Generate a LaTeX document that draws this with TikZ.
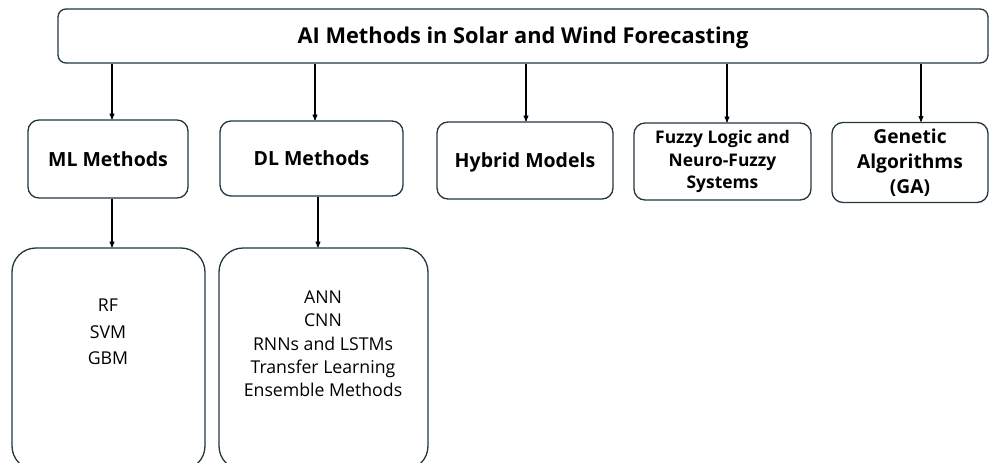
\documentclass[tikz,border=0pt]{standalone}
\usepackage{fontspec}
\setmainfont{Open Sans}
\usetikzlibrary{positioning,arrows}
\definecolor{boxline}{RGB}{36,54,64}

\begin{document}
\begin{tikzpicture}[x=1pt, y=-1pt, >=stealth']
\tikzset{
    box/.style = {draw=boxline, line width=1.3pt, rectangle, align=center, inner sep=2pt},
    topbox/.style = {box, rounded corners=8pt, minimum width=930pt, minimum height=54pt,
        text height=15.6pt, text depth=0pt, font=\fontsize{21.8}{25}\selectfont\bfseries},
    catbox/.style = {box, rounded corners=11pt, font=\fontsize{19.5}{24}\selectfont\bfseries},
    oneline/.style = {text height=14pt, text depth=0pt},
    listbox/.style = {box, rounded corners=24pt, minimum height=222pt},
    listtext/.style = {align=center, inner sep=0pt},
    link/.style = {->, line width=1.1pt, black}
}
\useasboundingbox (0,0) rectangle (989,463);

% -------------------------------------------------------
\node[topbox] (top) at (523,36) {AI Methods in Solar and Wind Forecasting};

\node[catbox, oneline, minimum width=160pt, minimum height=78pt] (ml) at (108,159) {ML Methods};
\node[catbox, oneline, minimum width=183pt, minimum height=75pt] (dl) at (311.5,158.5) {DL Methods};
\node[catbox, oneline, minimum width=176pt, minimum height=77pt] (hybrid) at (525,160.5) {Hybrid Models};
\node[catbox, minimum width=177pt, minimum height=77pt,
    font=\fontsize{17.4}{22.5}\selectfont\bfseries] (fuzzy) at (722.5,161.5)
    {Fuzzy Logic and\\Neuro-Fuzzy\\Systems};
\node[catbox, minimum width=156pt, minimum height=80pt,
    font=\fontsize{19.2}{25}\selectfont\bfseries] (ga) at (910,162.5)
    {Genetic\\Algorithms\\(GA)};

\node[listbox, minimum width=193pt] (mlbox) at (108.5,359) {};
\node[listtext, font=\fontsize{17.7}{26.5}\selectfont] (mllist) at (108,332)
    {RF\\SVM\\GBM};

\node[listbox, minimum width=209pt] (dlbox) at (323.5,359) {};
\node[listtext, font=\fontsize{17.7}{23.3}\selectfont] (dllist) at (323,344)
    {ANN\\CNN\\RNNs and LSTMs\\Transfer Learning\\Ensemble Methods};

% -------------------------------------------------------
\path[link] (top.south -| 112,0) edge (ml.north -| 112,0);
\path[link] (top.south -| 315,0) edge (dl.north -| 315,0);
\path[link] (top.south -| 526,0) edge (hybrid.north -| 526,0);
\path[link] (top.south -| 727,0) edge (fuzzy.north -| 727,0);
\path[link] (top.south -| 921,0) edge (ga.north -| 921,0);

\path[link] (ml.south -| 112,0) edge (mlbox.north -| 112,0);
\path[link] (dl.south -| 318,0) edge (dlbox.north -| 318,0);
\end{tikzpicture}
\end{document}
